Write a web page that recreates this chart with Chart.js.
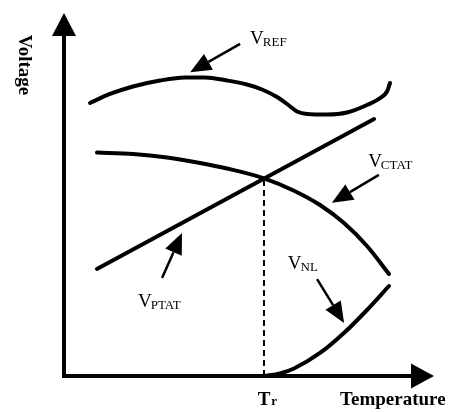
<!DOCTYPE html>
<html>
<head>
<meta charset="utf-8">
<script src="https://cdn.jsdelivr.net/npm/chart.js@4"></script>
<style>
html,body{margin:0;padding:0;background:#fff;}
#wrap{width:454px;height:412px;}
</style>
</head>
<body>
<div id="wrap"><canvas id="c" width="454" height="412"></canvas></div>
<script>
// ---- data (arbitrary units: temperature 0..100, voltage 0..100) ----
const vrefT  = [7.03, 12.43, 18.65, 25.95, 32.70, 38.11, 44.05, 49.46, 53.51, 57.57, 60.81, 62.97, 65.68, 71.08, 76.49, 81.89, 85.41, 87.30, 88.11];
const vrefV  = [75.21, 77.69, 79.75, 81.40, 82.23, 82.23, 81.40, 80.30, 78.93, 76.86, 74.52, 72.87, 72.18, 72.04, 72.59, 74.66, 76.58, 78.37, 80.72];
const vctatT = [8.92, 18.65, 27.84, 36.76, 44.05, 54.05, 62.16, 69.19, 75.68, 81.89, 87.84];
const vctatV = [61.57, 61.16, 60.19, 58.68, 57.16, 54.46, 51.05, 47.11, 42.15, 35.81, 28.10];
const vptatT = [8.9, 83.8];
const vptatV = [29.5, 70.8];
const vnlT   = [54.05, 58.38, 62.16, 69.19, 75.95, 81.89, 87.84];
const vnlV   = [0.0, 0.69, 2.07, 6.34, 12.12, 18.18, 24.79];
const trT    = [54.05, 54.05];
const trV    = [0.0, 54.46];

// annotation arrows: [fromT, fromV, toT, toV]
const arrowRef  = [47.6, 91.5, 34.1, 83.7];
const arrowCtat = [85.1, 55.4, 72.4, 47.7];
const arrowPtat = [26.5, 27.0, 31.9, 39.4];
const arrowNl   = [68.4, 26.7, 75.7, 14.6];

// labels: [main, sub] and [T, V]
const labelNames = [['V','REF'],['V','CTAT'],['V','PTAT'],['V','NL']];
const labelPos   = [[50.3, 91.5],[82.2, 57.6],[20.0, 19.0],[60.5, 29.5]];
const xTitle = 'Temperature';
const yTitle = 'Voltage';
const trLabel = ['T','r'];

function pts(xs, ys){ return xs.map((v,i)=>({x:v, y:ys[i]})); }

function drawArrow(ctx, x1,y1,x2,y2, len, half, lw){
  const a = Math.atan2(y2-y1, x2-x1);
  const bx = x2 - len*Math.cos(a), by = y2 - len*Math.sin(a);
  ctx.save();
  ctx.strokeStyle='#000'; ctx.fillStyle='#000'; ctx.lineWidth=lw; ctx.lineCap='butt';
  ctx.beginPath(); ctx.moveTo(x1,y1); ctx.lineTo(bx,by); ctx.stroke();
  ctx.beginPath();
  ctx.moveTo(x2,y2);
  ctx.lineTo(bx + half*Math.sin(a), by - half*Math.cos(a));
  ctx.lineTo(bx - half*Math.sin(a), by + half*Math.cos(a));
  ctx.closePath(); ctx.fill();
  ctx.restore();
}

const overlay = {
  id:'overlay',
  afterDatasetsDraw(chart){
    const ctx = chart.ctx, xs = chart.scales.x, ys = chart.scales.y;
    const X = v=>xs.getPixelForValue(v), Y = v=>ys.getPixelForValue(v);
    const ox = X(0), oy = Y(0);
    ctx.save();
    ctx.strokeStyle='#000'; ctx.lineWidth=4; ctx.lineCap='butt';
    ctx.beginPath(); ctx.moveTo(ox, oy+2); ctx.lineTo(ox, Y(100)+20); ctx.stroke();
    ctx.beginPath(); ctx.moveTo(ox-2, oy); ctx.lineTo(X(100)-20, oy); ctx.stroke();
    ctx.fillStyle='#000';
    ctx.beginPath(); ctx.moveTo(ox, Y(100)); ctx.lineTo(ox-12, Y(100)+23); ctx.lineTo(ox+12, Y(100)+23); ctx.closePath(); ctx.fill();
    ctx.beginPath(); ctx.moveTo(X(100), oy); ctx.lineTo(X(100)-23, oy-12.5); ctx.lineTo(X(100)-23, oy+12.5); ctx.closePath(); ctx.fill();
    ctx.restore();
    [arrowRef, arrowCtat, arrowPtat, arrowNl].forEach(a=>{
      drawArrow(ctx, X(a[0]), Y(a[1]), X(a[2]), Y(a[3]), 21, 9, 2.5);
    });
    ctx.save();
    ctx.fillStyle='#000'; ctx.textBaseline='alphabetic'; ctx.textAlign='left';
    labelNames.forEach((n,i)=>{
      const px = X(labelPos[i][0]), py = Y(labelPos[i][1]);
      ctx.font = '19px "Liberation Serif"';
      ctx.fillText(n[0], px, py);
      const w = ctx.measureText(n[0]).width;
      ctx.font = '13px "Liberation Serif"';
      ctx.fillText(n[1], px + w - 1, py + 2);
    });
    ctx.font = 'bold 19px "Liberation Serif"';
    ctx.textAlign='center';
    ctx.fillText(trLabel[0], X(trT[0]), Y(-8));
    const tw = ctx.measureText(trLabel[0]).width;
    ctx.textAlign='left';
    ctx.font = 'bold 13px "Liberation Serif"';
    ctx.fillText(trLabel[1], X(trT[0]) + tw/2 + 1, Y(-8));
    ctx.font = 'bold 19px "Liberation Serif"';
    ctx.textAlign='left';
    ctx.fillText(xTitle, X(74.6), Y(-8));
    ctx.translate(24, Y(85.7));
    ctx.rotate(Math.PI/2);
    ctx.textAlign='center'; ctx.textBaseline='middle';
    ctx.fillText(yTitle, 0, 0);
    ctx.restore();
  }
};

const line = (xs, ys, extra) => Object.assign({
  data: pts(xs, ys), showLine:true, borderColor:'#000', borderWidth:4,
  pointRadius:0, cubicInterpolationMode:'monotone', borderCapStyle:'round', fill:false, clip:false
}, extra||{});

new Chart(document.getElementById('c'), {
  type:'scatter',
  data:{ datasets:[
    line(vrefT, vrefV),
    line(vctatT, vctatV),
    line(vptatT, vptatV),
    line(vnlT, vnlV),
    line(trT, trV, {borderWidth:2, borderDash:[6,4], cubicInterpolationMode:'default', tension:0, borderCapStyle:'butt'})
  ]},
  options:{
    responsive:false, animation:false,
    layout:{padding:{left:64, right:20, top:13, bottom:36}},
    plugins:{legend:{display:false}, tooltip:{enabled:false}},
    scales:{
      x:{type:'linear', min:0, max:100, display:false},
      y:{type:'linear', min:0, max:100, display:false}
    }
  },
  plugins:[overlay]
});
</script>
</body>
</html>
